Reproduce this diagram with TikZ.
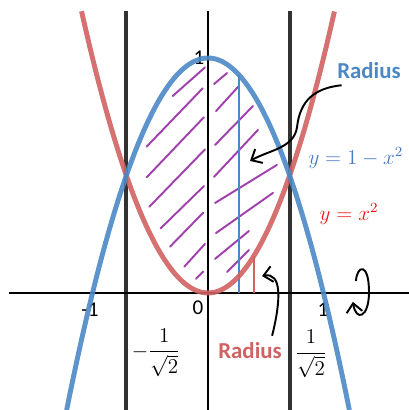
\documentclass[tikz,border=0pt]{standalone}
\usepackage[no-math]{fontspec}
\setmainfont{Carlito}
\usepackage{amsmath,amssymb}
\usepackage{xcolor}
\usetikzlibrary{arrows.meta,calc,positioning}

\definecolor{parblue}{RGB}{76,136,198}
\definecolor{parred}{RGB}{208,98,98}
\definecolor{eqblue}{RGB}{70,120,200}
\definecolor{eqred}{RGB}{240,20,20}
\definecolor{hatchpurple}{RGB}{160,64,172}
\definecolor{guidegray}{RGB}{50,50,50}

\begin{document}
\begin{tikzpicture}[x=2.31cm,y=4.7cm,
  curve/.style={line width=2.8pt,opacity=0.9},
  guide/.style={guidegray,line width=2.3pt},
  hatch/.style={hatchpurple,line width=1.1pt,line cap=round},
  pointer/.style={-{Straight Barb[length=5pt,width=9pt]},line width=1.1pt},
  lbl/.style={font=\fontsize{12}{14}\selectfont},
  radlbl/.style={font=\fontsize{13}{15}\selectfont\bfseries}]
\useasboundingbox (-1.801,-0.498) rectangle (1.740,1.2468);
\draw[guide] (-0.7071,1.2)--(-0.7071,-0.498);
\draw[guide] (0.7071,1.2)--(0.7071,-0.498);
\draw[line width=0.85pt] (-1.723,0)--(1.740,0);
\draw[line width=0.85pt] (0,1.2)--(0,-0.498);
% hatching, left half then right half
\foreach \a/\b/\c/\d in {-0.306/0.838/-0.026/0.960, -0.531/0.623/-0.046/0.871,
  -0.531/0.492/-0.035/0.748, -0.508/0.367/-0.026/0.611, -0.410/0.275/-0.035/0.455,
  -0.329/0.197/-0.041/0.342, -0.205/0.112/-0.026/0.209, -0.104/0.060/-0.041/0.091}
  \draw[hatch] (\a,\b)--(\c,\d);
\foreach \a/\b/\c/\d in {0.052/0.889/0.165/0.936, 0.069/0.774/0.260/0.877,
  0.061/0.630/0.390/0.796, 0.052/0.494/0.433/0.694, 0.061/0.383/0.597/0.545,
  0.069/0.255/0.563/0.426, 0.061/0.145/0.355/0.264, 0.165/0.089/0.355/0.183}
  \draw[hatch] (\a,\b)--(\c,\d);
\draw[parblue,line width=1.1pt] (0.268,0)--(0.268,{1-0.268^2});
\draw[parred,line width=1.1pt] (0.398,0)--(0.398,{0.398^2});
\node[lbl] (ytop) at (-0.078,1.0) {1};
\node[lbl] (orig) at (-0.087,-0.064) {0};
\node[lbl] (xneg) at (-1.022,-0.072) {-1};
\node[lbl] (xpos) at (0.996,-0.072) {1};
\draw[curve,parred,domain=-1.095:1.095,smooth,variable=\x,samples=60] plot ({\x},{\x*\x});
\draw[curve,parblue,domain=-1.224:1.224,smooth,variable=\x,samples=60] plot ({\x},{1-\x*\x});
\node[eqblue,font=\large] (eqB) at (1.281,0.574) {$y=1-x^2$};
\node[eqred,font=\large] (eqR) at (1.221,0.336) {$y=x^2$};
\node[font=\large] (negroot) at (-0.450,-0.255) {$-\dfrac{1}{\sqrt{2}}$};
\node[font=\large] (posroot) at (0.892,-0.260) {$\dfrac{1}{\sqrt{2}}$};
\node[radlbl,parblue] (radiusB) at (1.394,0.945) {Radius};
\node[radlbl,parred] (radiusR) at (0.364,-0.243) {Radius};
\coordinate (tipB) at (0.364,0.562);
\coordinate (tipR) at (0.468,0.072);
\draw[pointer] ([xshift=6pt]radiusB.south west) .. controls (0.926,0.872) and (0.797,0.821) .. (0.771,0.706)
  .. controls (0.745,0.617) and (0.537,0.609) .. (tipB);
\draw[pointer] ([xshift=-9pt]radiusR.north east) .. controls (0.632,-0.030) and (0.641,0.089) .. (tipR);
% rotation about the x-axis
\draw[pointer] (1.281,0.051) .. controls (1.290,0.119) and (1.394,0.132) .. (1.394,0.004)
  .. controls (1.394,-0.106) and (1.281,-0.123) .. (1.255,-0.038);
\end{tikzpicture}
\end{document}
